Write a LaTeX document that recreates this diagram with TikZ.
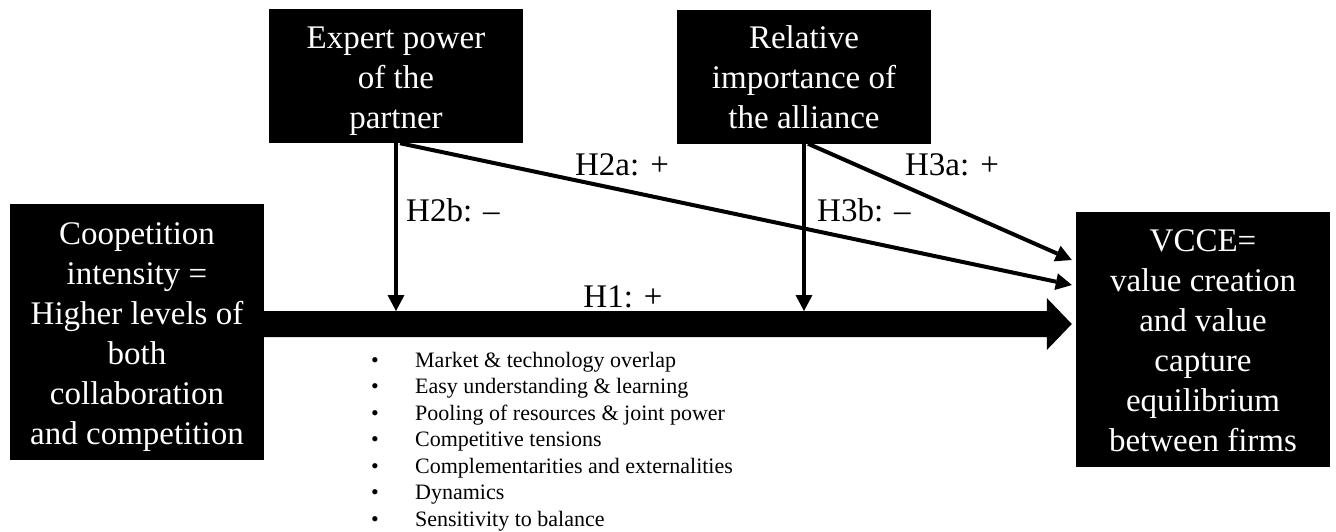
\documentclass[tikz,border=0pt]{standalone}
\usepackage{fontspec}
\setmainfont{Liberation Serif}
\usetikzlibrary{arrows.meta,calc}
\newcommand\fstrut{\rule{0pt}{24pt}}
\begin{document}
\begin{tikzpicture}[x=1pt,y=-1pt,
  box/.style={fill=black,text=white,minimum width=254pt,inner sep=0pt,align=center,text depth=0pt,font=\fontsize{33}{40}\selectfont},
  lbl/.style={font=\fontsize{33}{40}\selectfont,inner sep=0pt},
  bul/.style={font=\fontsize{22}{26.5}\selectfont,anchor=base west,inner sep=0pt},
  link/.style={line width=4pt,-{Triangle[length=16pt,width=17pt,line width=0pt]}},
]
\useasboundingbox (0,0) rectangle (1336,531);
\node[box,minimum height=256pt] (coop) at (137,332) {\fstrut Coopetition\\intensity =\\Higher levels of\\both\\collaboration\\and competition};
\node[box,minimum height=134pt] (expert) at (396,76) {\fstrut Expert power\\of the\\partner};
\node[box,minimum height=134pt] (relimp) at (804,76.5) {\fstrut Relative\\importance of\\the alliance};
\node[box,minimum height=255pt] (vcce) at (1203,339.5) {\fstrut VCCE=\\value creation\\and value\\capture\\equilibrium\\between firms};
% H1 thick arrow
\coordinate (h1s) at ([yshift=8pt]coop.east);
\coordinate (h1e) at ([xshift=-4pt]h1s -| vcce.west);
\coordinate (h1top) at ([yshift=13pt]h1s);
\fill ($(h1s)+(0,-13)$) -- ($(h1e)+(-25,-13)$) -- ($(h1e)+(-25,-26)$) -- (h1e)
  -- ($(h1e)+(-25,26)$) -- ($(h1e)+(-25,13)$) -- ($(h1s)+(0,13)$) -- cycle;
% moderating arrows
\draw[link] (expert.south) -- (expert.south |- h1top);
\draw[link] (relimp.south) -- (relimp.south |- h1top);
\draw[link] ([xshift=4pt]expert.south) -- ([xshift=-4pt,yshift=54.5pt]vcce.west);
\draw[link] ([xshift=4pt]relimp.south) -- ([xshift=-4pt,yshift=79.5pt]vcce.west);
% labels
\node[lbl] (h2a) at (622,165) {H2a: +};
\node[lbl,anchor=west] (h2b) at (406,210) {H2b: –};
\node[lbl] (h1) at (623,297) {H1: +};
\node[lbl,anchor=west] (h3b) at (817,210) {H3b: –};
\node[lbl] (h3a) at (952,165) {H3a: +};
% bullet list
\foreach \t [count=\i] in {Market \& technology overlap,Easy understanding \& learning,Pooling of resources \& joint power,Competitive tensions,Complementarities and externalities,Dynamics,Sensitivity to balance}
  \node[bul] (b\i) at (371,{367+26.5*(\i-1)}) {\makebox[44pt][l]{\textbullet}\t};
\end{tikzpicture}
\end{document}
